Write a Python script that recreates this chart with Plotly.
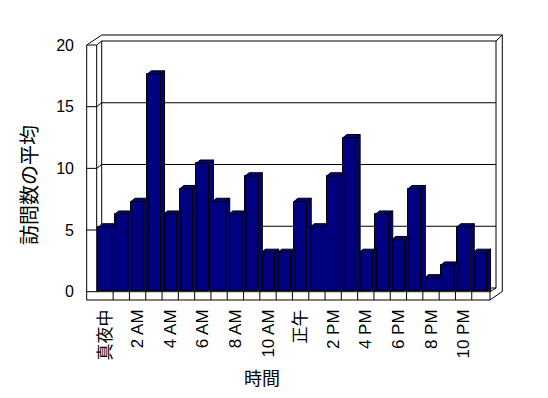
import plotly.graph_objects as go

# ---- data ----
hours = ["真夜中", "1 AM", "2 AM", "3 AM", "4 AM", "5 AM", "6 AM", "7 AM", "8 AM", "9 AM",
         "10 AM", "11 AM", "正午", "1 PM", "2 PM", "3 PM", "4 PM", "5 PM", "6 PM", "7 PM",
         "8 PM", "9 PM", "10 PM", "11 PM"]
visits = [5, 6, 7, 17, 6, 8, 10, 7, 6, 9, 3, 3, 7, 5, 9, 12, 3, 6, 4, 8, 1, 2, 5, 3]
y_ticks = [0, 5, 10, 15, 20]
y_title = "訪問数の平均"
x_title = "時間"

# ---- geometry (pixels) ----
W, H = 548, 398
PL, PR, PT, PB = 80, 510, 30, 300
SLOT = 16.3          # px per category
X0 = 105.0           # px of first bar centre
BAR_PX = 12.74       # px per unit for bars
BAR_ZERO = 290.7
FRONT_PX, FRONT_ZERO = 12.335, 291.7
BACK_PX, BACK_ZERO = 12.35, 288.0

def px(x):
    return (x - PL) / (PR - PL)

def py(y):
    return (PB - y) / (PB - PT)

n = len(visits)
xs = list(range(n))
x_range = [(PL - X0) / SLOT, (PR - X0) / SLOT]
y_range = [-(PB - BAR_ZERO) / BAR_PX, (BAR_ZERO - PT) / BAR_PX]
y2_range = [-(PB - FRONT_ZERO) / FRONT_PX, (FRONT_ZERO - PT) / FRONT_PX]
y3_range = [-(PB - BACK_ZERO) / BACK_PX, (BACK_ZERO - PT) / BACK_PX]

NAVY = "#000080"
bw = 13.3 / SLOT
dx = 4.0 / SLOT
dy = 3.3 / BAR_PX

fig = go.Figure()
fig.add_trace(go.Bar(x=xs, y=visits, width=bw, marker=dict(color=NAVY, line=dict(color="black", width=1)),
                     hoverinfo="skip", showlegend=False))

# top + side faces of each 3D bar
fx, fy = [], []
for i, v in zip(xs, visits):
    l, r = i - bw / 2, i + bw / 2
    fx += [l, r, r + dx, l + dx, l, None]
    fy += [v, v, v + dy, v + dy, v, None]
    fx += [r, r, r + dx, r + dx, r, None]
    fy += [0, v, v + dy, 0, 0, None]
fig.add_trace(go.Scatter(x=fx, y=fy, mode="lines", fill="toself", fillcolor=NAVY,
                         line=dict(color="black", width=1), hoverinfo="skip", showlegend=False))

# invisible traces to anchor overlay axes
fig.add_trace(go.Scatter(x=[0], y=[0], yaxis="y2", mode="markers", marker=dict(opacity=0),
                         hoverinfo="skip", showlegend=False))
fig.add_trace(go.Scatter(x=[0], y=[0], yaxis="y3", mode="markers", marker=dict(opacity=0),
                         hoverinfo="skip", showlegend=False))

shapes = []
def pline(x0, y0, x1, y1):
    shapes.append(dict(type="line", xref="paper", yref="paper", x0=px(x0), y0=py(y0), x1=px(x1), y1=py(y1),
                       line=dict(color="black", width=1), layer="below"))

BWL, BWR = 101.7, 496.0      # back wall left/right
OUT_R = 502.3
for v in y_ticks:
    shapes.append(dict(type="line", xref="paper", yref="y3", x0=px(BWL), x1=px(BWR), y0=v, y1=v,
                       line=dict(color="black", width=1), layer="below"))
    fy_ = FRONT_ZERO - FRONT_PX * v
    by_ = BACK_ZERO - BACK_PX * v
    pline(86.7, fy_, 96.7, fy_)
    pline(96.7, fy_, BWL, by_)
pline(BWL, 41, BWL, 288)
pline(BWR, 41, BWR, 288)
pline(86.7, 45, BWL, 35)
pline(BWL, 35, OUT_R, 35)
pline(OUT_R, 35, BWR, 41)
pline(OUT_R, 35, OUT_R, 291.5)
pline(OUT_R, 291.5, 490, 300)
pline(BWR, 288, 490, 291.7)
pline(86.7, 45, 86.7, 300)
pline(96.7, 45, 96.7, 291.7)
pline(96.7, 291.7, 490, 291.7)
pline(86.7, 300, 490, 300)
pline(490, 291.7, 490, 300)

for i in xs[:-1]:
    shapes.append(dict(type="line", xref="x", yref="paper", x0=i + 0.5, x1=i + 0.5,
                       y0=py(300), y1=py(291.7), line=dict(color="black", width=1), layer="above"))

FONT = "Liberation Sans, Arial, Noto Sans CJK JP, sans-serif"
CJK = "Noto Sans CJK JP"
annotations = [
    dict(text=y_title, xref="paper", yref="paper", x=px(28), y=py(185), textangle=-90,
         showarrow=False, xanchor="center", yanchor="middle", font=dict(family=CJK, size=20, color="black")),
    dict(text=x_title, xref="paper", yref="paper", x=px(262), y=py(377),
         showarrow=False, xanchor="center", yanchor="middle", font=dict(family=CJK, size=18, color="black")),
]

fig.update_layout(
    width=W, height=H,
    margin=dict(l=PL, r=W - PR, t=PT, b=H - PB, pad=0),
    paper_bgcolor="white", plot_bgcolor="white",
    shapes=shapes, annotations=annotations,
    font=dict(family=FONT, size=16, color="black"),
    showlegend=False,
    bargap=0,
    xaxis=dict(range=x_range, tickmode="array", tickvals=xs[::2], ticktext=hours[::2],
               tickangle=-90, ticks="", showgrid=False, zeroline=False, showline=False,
               ticklabelstandoff=5,
               tickfont=dict(family=FONT, size=17, color="black")),
    yaxis=dict(range=y_range, showticklabels=False, showgrid=False, zeroline=False, showline=False, ticks=""),
    yaxis2=dict(range=y2_range, overlaying="y", side="left", tickmode="array", tickvals=y_ticks,
                ticks="", showgrid=False, zeroline=False, showline=False, ticklabelstandoff=5,
                tickfont=dict(family=FONT, size=16, color="black")),
    yaxis3=dict(range=y3_range, overlaying="y", side="right", visible=False),
)

fig.write_html("out.html")
